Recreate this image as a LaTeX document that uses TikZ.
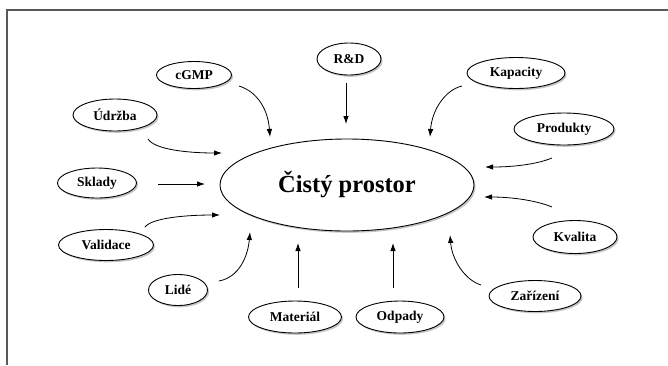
\documentclass[tikz,border=0pt]{standalone}
\usepackage{fontspec}
\setmainfont{Liberation Serif}
\usetikzlibrary{shapes.geometric,arrows.meta,shadows}
\begin{document}
\begin{tikzpicture}[x=1pt,y=-1pt,
  bub/.style={ellipse,draw=black,line width=0.9pt,fill=white,inner sep=0pt,
    font=\fontsize{13.5}{15}\selectfont\bfseries,
    drop shadow={shadow xshift=1.6pt,shadow yshift=-1.8pt,fill=black!28,opacity=0.8}},
  arr/.style={-{Latex[length=8pt,width=5.5pt]},line width=0.8pt}]
\useasboundingbox (0,0) rectangle (668,365);
\draw[black!65,line width=1.3pt] (7,365) -- (7,10) -- (668,10);
% central
\node[bub,minimum width=254pt,minimum height=92pt,font=\fontsize{24.5}{28}\selectfont\bfseries] (c) at (347,185) {Čistý prostor};
% satellites
\node[bub,minimum width=75pt,minimum height=27pt] (cgmp) at (194,75) {cGMP};
\node[bub,minimum width=64pt,minimum height=32pt] (rd) at (349,59) {R\&D};
\node[bub,minimum width=98pt,minimum height=31pt] (kap) at (516,73) {Kapacity};
\node[bub,minimum width=84pt,minimum height=32pt] (udr) at (115,115) {Údržba};
\node[bub,minimum width=100pt,minimum height=32pt] (pro) at (564,129) {Produkty};
\node[bub,minimum width=79pt,minimum height=30pt] (skl) at (97,183) {Sklady};
\node[bub,minimum width=95pt,minimum height=31pt] (val) at (106,245) {Validace};
\node[bub,minimum width=84pt,minimum height=33pt] (kva) at (575,237) {Kvalita};
\node[bub,minimum width=59pt,minimum height=31pt] (lid) at (178,290) {Lidé};
\node[bub,minimum width=92pt,minimum height=31pt] (zar) at (535,296) {Zařízení};
\node[bub,minimum width=93pt,minimum height=32pt] (mat) at (295,317) {Materiál};
\node[bub,minimum width=88pt,minimum height=32pt] (odp) at (400,317) {Odpady};
% arrow tips
\coordinate (t1) at (270,137);
\coordinate (t2) at (346,124);
\coordinate (t3) at (430,137);
\coordinate (t4) at (222,153);
\coordinate (t5) at (485,167);
\coordinate (t6) at (205,184);
\coordinate (t7) at (220,215);
\coordinate (t8) at (484,197);
\coordinate (t9) at (250,232);
\coordinate (t10) at (450,235);
\coordinate (t11) at (298,243);
\coordinate (t12) at (393,243);
% arrows
\draw[arr] ([shift={(45,11)}]cgmp.center) .. controls (258,92) and (268,110) .. (t1);
\draw[arr] ([shift={(-3,24)}]rd.center) -- (t2);
\draw[arr] ([shift={(-54,13)}]kap.center) .. controls (445,90) and (432,110) .. (t3);
\draw[arr] ([shift={(33,24)}]udr.center) .. controls (155,150) and (190,153) .. (t4);
\draw[arr] ([shift={(-12,29)}]pro.center) .. controls (535,165) and (510,167) .. (t5);
\draw[arr] ([shift={(61,1)}]skl.center) -- (t6);
\draw[arr] ([shift={(39,-18)}]val.center) .. controls (152,218) and (185,215) .. (t7);
\draw[arr] ([shift={(-23,-30)}]kva.center) .. controls (535,200) and (510,197) .. (t8);
\draw[arr] ([shift={(41,-9)}]lid.center) .. controls (240,277) and (248,255) .. (t9);
\draw[arr] ([shift={(-54,-11)}]zar.center) .. controls (465,280) and (452,260) .. (t10);
\draw[arr] ([shift={(3,-29)}]mat.center) -- (t11);
\draw[arr] ([shift={(-7,-29)}]odp.center) -- (t12);
\end{tikzpicture}
\end{document}
